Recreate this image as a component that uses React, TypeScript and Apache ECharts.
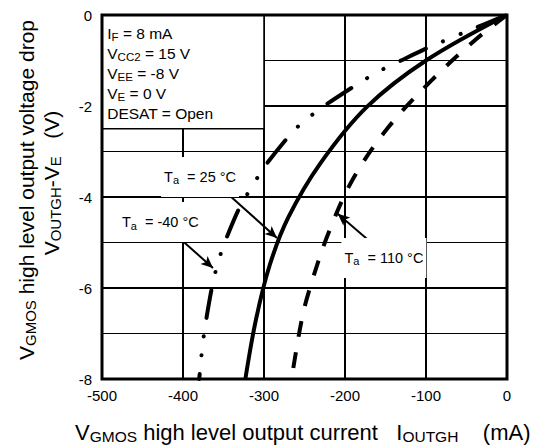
import React, { useEffect, useRef } from "react";
import * as echarts from "echarts";

// ---- data ----
const currentN40 = [0, -55, -99, -132, -153, -172, -190, -225, -241, -258, -272, -298, -309, -321, -332, -347, -354, -360, -365, -370, -374, -377, -380];
const voltageN40 = [0, -0.4, -0.73, -1.01, -1.19, -1.38, -1.58, -1.99, -2.2, -2.45, -2.72, -3.3, -3.6, -3.95, -4.3, -4.93, -5.28, -5.65, -6.05, -6.55, -7.0, -7.45, -8.0];

const current25 = [0, -100, -173, -230, -270, -293, -310, -323];
const voltage25 = [0, -1.0, -2.02, -3.25, -4.45, -5.5, -6.7, -8.0];

const current110 = [0, -40, -95, -147, -190, -221, -245, -254, -266];
const voltage110 = [0, -0.56, -1.47, -2.48, -3.6, -4.82, -6.1, -6.75, -8.0];

const conditionLines = [
  "{n|I}{s|F}{n| = 8 mA}",
  "{n|V}{s|CC2}{n| = 15 V}",
  "{n|V}{s|EE}{n| = -8 V}",
  "{n|V}{s|E}{n| = 0 V}",
  "{n|DESAT = Open}",
];
const tempLabels = ["25 °C", "-40 °C", "110 °C"];

// annotation anchors (data coordinates)
const labelAnchors: [number, number][] = [[-379, -3.56], [-428, -4.55], [-152, -5.34]];
const arrowFrom: [number, number][] = [[-346, -3.91], [-406, -4.88], [-167, -5.01]];
const arrowTo: [number, number][] = [[-284, -4.9], [-363, -5.56], [-209, -4.37]];
const boxCorner1: [number, number] = [-500, 0];
const boxCorner2: [number, number] = [-300, -2.5];

const FONT = "'Liberation Sans', Arial, Helvetica, sans-serif";
const G = { left: 102, top: 15, width: 405, height: 364 };

const pairs = (xs: number[], ys: number[]) => xs.map((x, i) => [x, ys[i]]);

export default function App() {
  const ref = useRef<HTMLDivElement>(null);
  useEffect(() => {
    if (!ref.current) return;
    const chart = echarts.init(ref.current, undefined, { renderer: "svg" });
    const rich = (n: number, s: number, lh: number) => ({
      n: { fontSize: n, lineHeight: lh, fontFamily: FONT, color: "#000" },
      s: { fontSize: s, lineHeight: s + 1, verticalAlign: "bottom", fontFamily: FONT, color: "#000" },
    });
    const option: any = {
      animation: false,
      grid: { ...G, show: false },
      xAxis: {
        type: "value",
        min: -500,
        max: 0,
        interval: 100,
        axisLine: { show: false },
        axisTick: { show: false },
        axisLabel: { color: "#000", fontSize: 15, fontFamily: FONT, margin: 9 },
        splitLine: { show: true, lineStyle: { color: "#000", width: 2 } },
      },
      yAxis: {
        type: "value",
        min: -8,
        max: 0,
        interval: 2,
        axisLine: { show: false },
        axisTick: { show: false },
        axisLabel: { color: "#000", fontSize: 15, fontFamily: FONT, margin: 10 },
        splitLine: { show: true, lineStyle: { color: "#000", width: 2 } },
        minorTick: { show: false, splitNumber: 2 },
        minorSplitLine: { show: true, lineStyle: { color: "#000", width: 1 } },
      },
      series: [
        {
          type: "line",
          name: "-40",
          data: pairs(currentN40, voltageN40),
          showSymbol: false,
          smooth: 0.25,
          lineStyle: {
            color: "#000",
            width: 4,
            type: [28, 18.8, 0.1, 18.8, 0.1, 18.7],
            dashOffset: 80.5,
            cap: "round",
          },
          z: 3,
        },
        {
          type: "line",
          name: "25",
          data: pairs(current25, voltage25),
          showSymbol: false,
          smooth: 0.35,
          lineStyle: { color: "#000", width: 4, type: "solid" },
          z: 3,
        },
        {
          type: "line",
          name: "110",
          data: pairs(current110, voltage110),
          showSymbol: false,
          smooth: 0.35,
          lineStyle: { color: "#000", width: 4, type: [16, 15.5], dashOffset: 0, cap: "butt" },
          z: 3,
        },
        {
          type: "line",
          name: "annot",
          data: [],
          z: 2,
          markArea: {
            silent: true,
            itemStyle: { color: "#fff", borderColor: "#000", borderWidth: 1.5 },
            label: {
              show: true,
              position: "insideTopLeft",
              distance: 0,
              padding: [9, 0, 0, 6],
              formatter: conditionLines.join("\n"),
              rich: rich(15.5, 11.5, 20),
            },
            data: [[{ coord: boxCorner1 }, { coord: boxCorner2 }]],
          },
          markPoint: {
            silent: true,
            symbol: "circle",
            symbolSize: 0,
            data: labelAnchors.map((c, i) => ({
              coord: c,
              label: {
                show: true,
                position: "inside",
                backgroundColor: "#fff",
                padding: [11, 3],
                formatter: "{n|T}{s|a}{n|  = " + tempLabels[i] + "}",
                rich: rich(14.5, 11, 18),
              },
            })),
          },
          markLine: {
            silent: true,
            symbol: ["none", "arrow"],
            symbolSize: [8, 12],
            label: { show: false },
            lineStyle: { color: "#000", width: 2, type: "solid" },
            data: arrowFrom.map((f, i) => [{ coord: f }, { coord: arrowTo[i] }]),
          },
        },
      ],
      graphic: [
        {
          type: "rect",
          z: 100,
          silent: true,
          shape: { x: G.left, y: G.top, width: G.width, height: G.height },
          style: { fill: "none", stroke: "#000", lineWidth: 3 },
        },
        {
          type: "text",
          x: 75,
          y: 432,
          style: {
            text: "{n|V}{s|GMOS}{n| high level output current   I}{s|OUTGH}{n|    (mA)}",
            rich: rich(22, 15.5, 25),
            align: "left",
            verticalAlign: "middle",
          },
        },
        {
          type: "text",
          x: 26,
          y: 190,
          rotation: Math.PI / 2,
          style: {
            text: "{n|V}{s|GMOS}{n| high level output voltage drop}",
            rich: rich(21, 15, 24),
            align: "center",
            verticalAlign: "middle",
          },
        },
        {
          type: "text",
          x: 51,
          y: 183,
          rotation: Math.PI / 2,
          style: {
            text: "{n|V}{s|OUTGH}{n|-V}{s|E}{n|   (V)}",
            rich: rich(21, 15, 24),
            align: "center",
            verticalAlign: "middle",
          },
        },
      ],
    };
    chart.setOption(option);
    return () => chart.dispose();
  }, []);
  return (
    <div
      ref={ref}
      style={{ position: "fixed", left: 0, top: 0, width: 533, height: 448, background: "#fff" }}
    />
  );
}
